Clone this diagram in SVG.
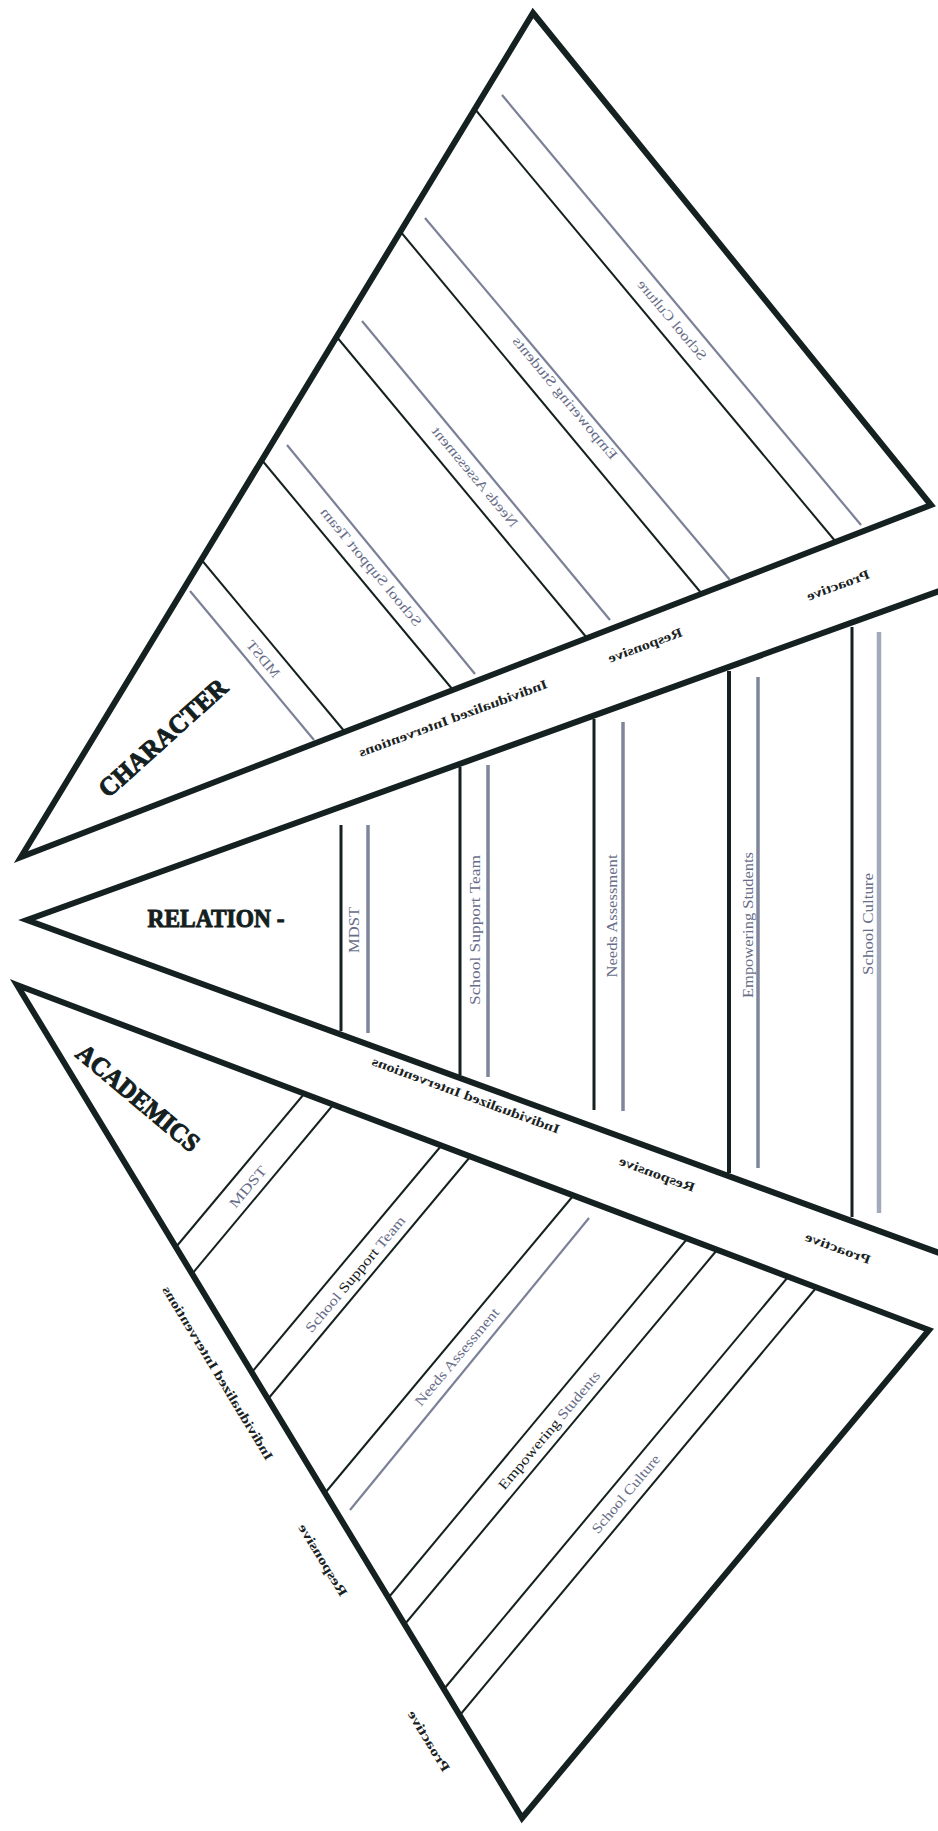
<svg xmlns="http://www.w3.org/2000/svg" width="938" height="1831" viewBox="0 0 938 1831">
<style>
.outer{fill:none;stroke:#142120;stroke-width:6;stroke-linejoin:miter;stroke-miterlimit:20}
.bl{stroke:#142120;stroke-width:2;fill:none}
.blv{stroke:#142120;stroke-width:3;fill:none}
.gl{stroke:#7b8197;stroke-width:2.2;fill:none}
.glv{stroke:#7f869c;stroke-width:3.5;fill:none}
.gll{stroke:#a3aabb;stroke-width:4.5;fill:none}
.t{font-family:"Liberation Serif","DejaVu Serif",serif;text-anchor:middle;dominant-baseline:central}
.sm{font-size:14px}
.bd{font-size:13px;font-weight:bold}
.g{fill:#676d88}
.k{fill:#1a2323}
.title{font-family:"Liberation Serif","DejaVu Serif",serif;font-size:26px;font-weight:bold;fill:#142020;stroke:#142020;stroke-width:1;text-anchor:middle;dominant-baseline:central}
</style>
<rect width="938" height="1831" fill="#ffffff"/>

<g id="character">
  <polygon class="outer" points="533,13 931,505 21,857"/>
  <line class="gl" x1="190" y1="591" x2="314" y2="740"/>
  <line class="bl" x1="200" y1="558" x2="345" y2="732"/>
  <line class="bl" x1="261" y1="459" x2="453" y2="690"/>
  <line class="gl" x1="287" y1="445" x2="475" y2="674"/>
  <line class="bl" x1="336" y1="336" x2="587" y2="638"/>
  <line class="gl" x1="362" y1="321" x2="610" y2="620"/>
  <line class="bl" x1="400" y1="231" x2="702" y2="594"/>
  <line class="gl" x1="425" y1="218" x2="730" y2="580"/>
  <line class="bl" x1="474" y1="108" x2="836" y2="542"/>
  <line class="gl" x1="502" y1="95" x2="861" y2="525"/>
  <text class="title" transform="translate(163 738) rotate(-42)" textLength="163" lengthAdjust="spacingAndGlyphs">CHARACTER</text>
  <text class="t sm g" transform="translate(263 659) rotate(50.2) scale(-1 1)" textLength="44" lengthAdjust="spacingAndGlyphs">MDST</text>
  <text class="t sm g" transform="translate(371 567) rotate(50.2) scale(-1 1)" textLength="150" lengthAdjust="spacingAndGlyphs">School Support Team</text>
  <text class="t sm g" transform="translate(475 477) rotate(50.2) scale(-1 1)" textLength="126" lengthAdjust="spacingAndGlyphs">Needs Assessment</text>
  <text class="t sm g" transform="translate(565 398) rotate(50.2) scale(-1 1)" textLength="155" lengthAdjust="spacingAndGlyphs">Empowering Students</text>
  <text class="t sm g" transform="translate(672 320) rotate(50.2) scale(-1 1)" textLength="100" lengthAdjust="spacingAndGlyphs">School Culture</text>
</g>

<g id="band-upper">
  <text class="t bd k" transform="translate(453 718) rotate(-20.3) scale(-1 1)" textLength="200" lengthAdjust="spacingAndGlyphs">Individualized Interventions</text>
  <text class="t bd k" transform="translate(645 645) rotate(-20.3) scale(-1 1)" textLength="78" lengthAdjust="spacingAndGlyphs">Responsive</text>
  <text class="t bd k" transform="translate(838 585) rotate(-20.3) scale(-1 1)" textLength="66" lengthAdjust="spacingAndGlyphs">Proactive</text>
</g>

<g id="relation">
  <polyline class="outer" points="942,590 27,920 942,1254"/>
  <line class="blv" x1="341" y1="825" x2="341" y2="1031"/>
  <line class="glv" x1="368" y1="825" x2="368" y2="1033"/>
  <line class="blv" x1="460" y1="767" x2="460" y2="1075"/>
  <line class="glv" x1="488" y1="765" x2="488" y2="1077"/>
  <line class="blv" x1="594" y1="719" x2="594" y2="1110"/>
  <line class="glv" x1="623" y1="722" x2="623" y2="1111"/>
  <line class="blv" x1="729" y1="671" x2="729" y2="1173" style="stroke-width:4"/>
  <line class="glv" x1="758" y1="677" x2="758" y2="1168"/>
  <line class="blv" x1="852" y1="627" x2="852" y2="1217"/>
  <line class="gll" x1="879" y1="632" x2="879" y2="1213"/>
  <text class="title" x="216" y="918" textLength="137" lengthAdjust="spacingAndGlyphs">RELATION -</text>
  <text class="t sm g" transform="translate(354 930) rotate(-90)" textLength="46" lengthAdjust="spacingAndGlyphs">MDST</text>
  <text class="t sm g" transform="translate(475 930) rotate(-90)" textLength="150" lengthAdjust="spacingAndGlyphs">School Support Team</text>
  <text class="t sm g" transform="translate(612 916) rotate(-90)" textLength="123" lengthAdjust="spacingAndGlyphs">Needs Assessment</text>
  <text class="t sm g" transform="translate(748 925) rotate(-90)" textLength="146" lengthAdjust="spacingAndGlyphs">Empowering Students</text>
  <text class="t sm g" transform="translate(868 924) rotate(-90)" textLength="102" lengthAdjust="spacingAndGlyphs">School Culture</text>
</g>

<g id="band-lower">
  <text class="t bd k" transform="translate(466 1095) rotate(20.3) scale(-1 1)" textLength="199" lengthAdjust="spacingAndGlyphs">Individualized Interventions</text>
  <text class="t bd k" transform="translate(657 1174) rotate(20.3) scale(-1 1)" textLength="80" lengthAdjust="spacingAndGlyphs">Responsive</text>
  <text class="t bd k" transform="translate(838 1248) rotate(20.3) scale(-1 1)" textLength="69" lengthAdjust="spacingAndGlyphs">Proactive</text>
</g>

<g id="academics">
  <polygon class="outer" points="17,985 929,1330 522,1818"/>
  <line class="bl" x1="176" y1="1247" x2="304" y2="1094"/>
  <line class="bl" x1="192" y1="1274" x2="333" y2="1105"/>
  <line class="bl" x1="252" y1="1372" x2="441" y2="1146"/>
  <line class="bl" x1="268" y1="1399" x2="470" y2="1157"/>
  <line class="bl" x1="325" y1="1493" x2="573" y2="1196"/>
  <line class="gl" x1="350" y1="1510" x2="589" y2="1218"/>
  <line class="bl" x1="389" y1="1597" x2="687" y2="1239"/>
  <line class="bl" x1="405" y1="1624" x2="717" y2="1250"/>
  <line class="bl" x1="444" y1="1689" x2="788" y2="1277"/>
  <line class="bl" x1="460" y1="1715" x2="816" y2="1288"/>
  <text class="title" transform="translate(138 1098) rotate(40)" textLength="152" lengthAdjust="spacingAndGlyphs">ACADEMICS</text>
  <text class="t sm g" transform="translate(248 1187) rotate(-50)" textLength="50" lengthAdjust="spacingAndGlyphs">MDST</text>
  <text class="t sm" transform="translate(355 1274) rotate(-50)" textLength="147" lengthAdjust="spacingAndGlyphs"><tspan class="g">School </tspan><tspan class="k">Support</tspan><tspan class="g"> Team</tspan></text>
  <text class="t sm g" transform="translate(457 1357) rotate(-50)" textLength="123" lengthAdjust="spacingAndGlyphs">Needs Assessment</text>
  <text class="t sm" transform="translate(549 1430) rotate(-50)" textLength="150" lengthAdjust="spacingAndGlyphs"><tspan class="k">Empowering </tspan><tspan class="g">Students</tspan></text>
  <text class="t sm g" transform="translate(626 1494) rotate(-50)" textLength="98" lengthAdjust="spacingAndGlyphs">School Culture</text>
  <text class="t bd k" transform="translate(218 1373) rotate(58.7) scale(-1 1)" textLength="201" lengthAdjust="spacingAndGlyphs">Individualized Interventions</text>
  <text class="t bd k" transform="translate(323 1560) rotate(58.7) scale(-1 1)" textLength="82" lengthAdjust="spacingAndGlyphs">Responsive</text>
  <text class="t bd k" transform="translate(429 1741) rotate(58.7) scale(-1 1)" textLength="69" lengthAdjust="spacingAndGlyphs">Proactive</text>
</g>

<g id="connectors"></g>
</svg>
